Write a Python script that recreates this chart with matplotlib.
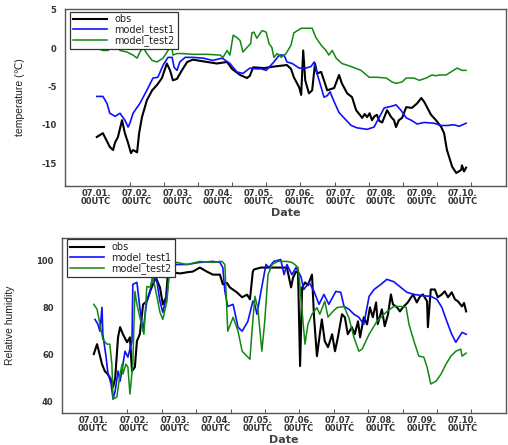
import matplotlib
matplotlib.use("Agg")
import matplotlib.pyplot as plt
import numpy as np

# Etykiety osi czasu (dni od 07.01. 00UTC)
tick_labels = ["07.01.\n00UTC", "07.02.\n00UTC", "07.03.\n00UTC", "07.04.\n00UTC", "07.05.\n00UTC",
               "07.06.\n00UTC", "07.07.\n00UTC", "07.08.\n00UTC", "07.09.\n00UTC", "07.10.\n00UTC"]
series_names = ["obs", "model_test1", "model_test2"]

# --- temperatura ---
t_obs_x = [0.02, 0.17, 0.34, 0.42, 0.47, 0.54, 0.64, 0.71, 0.79, 0.86, 0.91, 1.01, 1.06, 1.13, 1.25,
           1.38, 1.50, 1.62, 1.74, 1.82, 1.89, 1.99, 2.11, 2.24, 2.38, 2.73, 2.97, 3.22, 3.34, 3.54,
           3.71, 3.78, 3.86, 4.13, 4.37, 4.69, 4.79, 4.86, 4.99, 5.04, 5.09, 5.14, 5.23, 5.31, 5.38,
           5.43, 5.53, 5.60, 5.68, 5.85, 5.97, 6.04, 6.17, 6.29, 6.39, 6.54, 6.60, 6.66, 6.72, 6.78,
           6.84, 6.90, 6.96, 7.03, 7.15, 7.25, 7.32, 7.37, 7.44, 7.52, 7.62, 7.76, 7.89, 7.99, 8.06,
           8.13, 8.23, 8.35, 8.48, 8.55, 8.62, 8.75, 8.85, 8.97, 8.99, 9.04, 9.09]
t_obs_y = [-11.6, -11.1, -12.9, -13.3, -12.3, -11.6, -9.4, -11.1, -12.4, -13.7, -13.3, -13.6, -11.1, -9.0, -6.8,
           -5.5, -4.8, -3.9, -2.0, -2.9, -4.2, -4.0, -2.9, -1.8, -1.5, -1.8, -2.0, -1.8, -2.7, -3.5,
           -3.9, -3.6, -2.5, -2.6, -2.4, -2.2, -2.7, -3.8, -5.1, -6.1, -0.3, -4.2, -5.9, -5.5, -2.0,
           -3.3, -3.1, -4.2, -5.5, -5.2, -3.5, -4.6, -5.9, -6.4, -8.1, -9.1, -8.6, -9.0, -8.5, -9.4,
           -8.9, -8.7, -9.5, -9.7, -8.1, -9.0, -9.4, -10.3, -9.4, -9.1, -7.7, -7.8, -7.2, -6.5, -7.0,
           -7.7, -8.7, -9.4, -10.3, -11.1, -13.3, -15.5, -16.3, -15.9, -15.3, -16.1, -15.6]

t_m1_x = [0.02, 0.17, 0.27, 0.34, 0.47, 0.59, 0.71, 0.79, 0.84, 0.91, 1.08, 1.25, 1.40, 1.52, 1.65,
          1.77, 1.87, 1.92, 1.99, 2.06, 2.19, 2.38, 2.63, 2.87, 3.10, 3.29, 3.46, 3.61, 3.78, 3.93,
          4.06, 4.18, 4.37, 4.50, 4.62, 4.69, 4.82, 4.99, 5.16, 5.28, 5.36, 5.43, 5.53, 5.60, 5.68,
          5.75, 5.85, 5.97, 6.09, 6.27, 6.41, 6.66, 6.83, 6.95, 7.08, 7.25, 7.37, 7.49, 7.62, 7.74,
          7.89, 8.06, 8.30, 8.48, 8.62, 8.79, 8.92, 9.09]
t_m1_y = [-6.3, -6.3, -7.2, -8.5, -8.9, -8.5, -9.4, -10.3, -9.7, -8.5, -7.2, -5.5, -3.9, -3.8, -2.2,
          -1.2, -1.2, -2.5, -2.9, -1.8, -1.2, -1.2, -1.3, -1.6, -1.3, -2.0, -3.1, -3.3, -2.6, -2.7,
          -2.7, -2.9, -1.8, -0.9, -0.9, -1.8, -2.0, -2.6, -2.6, -2.4, -1.8, -3.3, -5.1, -6.4, -6.2,
          -5.7, -7.0, -8.4, -9.1, -10.1, -10.4, -10.6, -10.3, -9.1, -7.8, -7.6, -7.4, -8.1, -9.1, -9.4,
          -9.9, -9.7, -9.8, -10.1, -10.1, -10.0, -10.2, -9.8]

t_m2_x = [0.02, 0.17, 0.29, 0.42, 0.52, 0.59, 0.76, 0.91, 1.01, 1.08, 1.16, 1.25, 1.38, 1.50, 1.65,
          1.77, 1.82, 1.87, 1.89, 1.99, 2.11, 2.38, 2.73, 3.05, 3.12, 3.22, 3.29, 3.37, 3.46, 3.54,
          3.61, 3.71, 3.80, 3.83, 3.88, 3.95, 4.08, 4.18, 4.25, 4.32, 4.37, 4.45, 4.55, 4.67, 4.79,
          4.86, 5.04, 5.18, 5.31, 5.40, 5.53, 5.65, 5.72, 5.80, 5.90, 6.04, 6.27, 6.51, 6.71, 6.90,
          7.13, 7.27, 7.37, 7.52, 7.62, 7.81, 7.94, 8.11, 8.25, 8.35, 8.43, 8.60, 8.72, 8.87, 8.99,
          9.09]
t_m2_y = [0.0, -0.3, -0.3, 0.2, 0.4, -0.3, -0.5, -0.9, -1.3, -0.5, 0.1, -0.7, -1.6, -1.8, -1.3,
          -0.3, 0.1, -0.1, -0.9, -0.7, -0.7, -0.8, -0.8, -0.9, -1.2, -0.3, -0.9, 1.7, 1.4, 1.0,
          -0.5, 0.1, 0.6, 2.0, 2.1, 1.3, 2.3, 2.1, 0.6, 0.1, -1.2, -0.7, -1.2, -0.7, 0.4,
          2.0, 2.6, 2.6, 2.6, 1.4, 0.4, -0.3, -0.9, -0.3, -1.3, -2.0, -2.4, -2.9, -3.8, -3.8,
          -3.9, -4.4, -4.6, -4.4, -3.9, -3.9, -4.2, -3.9, -3.5, -3.6, -3.5, -3.5, -3.1, -2.6, -2.9,
          -2.9]

# --- wilgotność względna ---
h_obs_x = [0.02, 0.10, 0.15, 0.22, 0.29, 0.36, 0.46, 0.49, 0.54, 0.61, 0.66, 0.73, 0.83, 0.90, 0.95,
           1.02, 1.07, 1.14, 1.22, 1.31, 1.39, 1.46, 1.53, 1.63, 1.70, 1.78, 1.82, 1.92, 2.12, 2.29,
           2.43, 2.60, 2.77, 2.92, 3.09, 3.16, 3.26, 3.33, 3.50, 3.63, 3.75, 3.82, 3.89, 3.92, 4.09,
           4.40, 4.72, 4.77, 4.82, 4.87, 4.94, 4.99, 5.04, 5.09, 5.16, 5.23, 5.33, 5.38, 5.45, 5.52,
           5.57, 5.64, 5.72, 5.82, 5.89, 5.96, 6.06, 6.13, 6.20, 6.30, 6.37, 6.45, 6.50, 6.59, 6.67,
           6.74, 6.81, 6.89, 6.93, 7.03, 7.10, 7.18, 7.25, 7.30, 7.40, 7.47, 7.54, 7.66, 7.79, 7.88,
           7.96, 8.03, 8.13, 8.15, 8.22, 8.32, 8.39, 8.49, 8.56, 8.64, 8.73, 8.81, 8.88, 8.98, 9.03,
           9.08]
h_obs_y = [60.3, 64.5, 61, 56, 53, 51.8, 48.8, 46.3, 50, 67.4, 71.7, 68.7, 65.3, 67.4, 53,
           54.8, 65.8, 68.7, 81.4, 82.7, 86.9, 89.9, 92.8, 88.6, 81.4, 84.4, 94, 95, 94.5, 95,
           95.3, 97, 95.3, 94, 94, 89.9, 90.5, 88.6, 86.5, 84.4, 85.5, 83.5, 95.3, 96.2, 97,
           97, 97, 92.8, 88.6, 92.8, 95.3, 95.0, 55.2, 88.6, 90.7, 89.5, 94, 75.9, 59.4, 68.7,
           75, 65.8, 63.2, 68.7, 61.5, 67.4, 77.2, 75.9, 68.7, 71.7, 68.7, 74.2, 67.4, 75.9, 72.9,
           80.1, 75.9, 82.2, 73, 79.3, 72.1, 77.2, 85.6, 81.4, 80.1, 78.4, 80.1, 82.2, 85.6, 82.2,
           84.8, 85.6, 82.7, 71.7, 87.7, 87.7, 84.4, 85.6, 86.9, 84.4, 86.5, 83.5, 82.7, 80.5, 82,
           78.4]

h_m1_x = [0.05, 0.12, 0.17, 0.22, 0.24, 0.32, 0.36, 0.44, 0.49, 0.54, 0.61, 0.66, 0.73, 0.78, 0.85,
          0.95, 0.97, 1.07, 1.14, 1.22, 1.31, 1.39, 1.46, 1.56, 1.63, 1.70, 1.80, 1.87, 2.04, 2.29,
          2.60, 2.92, 3.09, 3.16, 3.21, 3.28, 3.41, 3.53, 3.63, 3.77, 3.89, 3.92, 3.99, 4.09, 4.21,
          4.28, 4.40, 4.57, 4.65, 4.72, 4.84, 4.94, 5.06, 5.13, 5.26, 5.38, 5.50, 5.62, 5.74, 5.91,
          6.03, 6.11, 6.23, 6.35, 6.47, 6.59, 6.72, 6.84, 7.01, 7.15, 7.32, 7.49, 7.64, 7.81, 8.05,
          8.22, 8.37, 8.49, 8.61, 8.73, 8.83, 8.91, 8.98, 9.08]
h_m1_y = [75, 72.9, 70, 80.1, 68.7, 59, 52.6, 47.6, 41.2, 44.6, 53.1, 48.8, 56, 61.5, 59,
          65.8, 89.9, 90.7, 80.1, 70, 82.7, 86.9, 94, 90.7, 82.7, 78, 85.6, 97, 98.3, 98.3,
          99.2, 99.6, 99.2, 97, 86.9, 80.5, 81.4, 71.7, 70, 74.2, 82.7, 82.7, 77.2, 87, 98.3,
          97, 99.6, 100.4, 94, 98.3, 94, 97, 93.2, 87.7, 90.7, 86.9, 81.4, 85.6, 81.4, 86.9,
          86.5, 80.5, 79.3, 77.2, 75.9, 72.9, 84.8, 87.7, 89.9, 92, 91, 88.6, 86.5, 85.6, 85.0,
          84.8, 83.5, 80.1, 74.2, 68.7, 65.3, 67.5, 69.5, 68.7]

h_m2_x = [0.02, 0.10, 0.17, 0.24, 0.34, 0.41, 0.46, 0.49, 0.58, 0.66, 0.71, 0.73, 0.80, 0.85, 0.90,
          0.97, 1.02, 1.07, 1.14, 1.24, 1.31, 1.39, 1.46, 1.56, 1.63, 1.70, 1.80, 1.87, 2.04, 2.29,
          2.60, 2.92, 3.09, 3.14, 3.21, 3.28, 3.41, 3.53, 3.63, 3.77, 3.82, 3.87, 3.94, 4.01, 4.11,
          4.18, 4.26, 4.36, 4.50, 4.72, 4.84, 4.91, 4.99, 5.04, 5.11, 5.16, 5.23, 5.33, 5.45, 5.52,
          5.64, 5.72, 5.84, 5.94, 6.11, 6.23, 6.35, 6.47, 6.55, 6.72, 6.91, 7.13, 7.32, 7.49, 7.62,
          7.69, 7.81, 7.93, 8.05, 8.13, 8.22, 8.35, 8.47, 8.59, 8.71, 8.83, 8.95, 8.98, 9.08]
h_m2_y = [81.4, 79.3, 72.9, 66.6, 64.5, 64.5, 56, 41.2, 42, 51.8, 56, 51.8, 56, 54.8, 43.3,
          56, 86.9, 81.4, 75.9, 68.7, 89, 88.6, 92.8, 84.4, 78, 75, 82.7, 97.5, 99.2, 98.3,
          99.6, 99.2, 99.6, 99.6, 98.3, 70, 75.9, 70, 61.5, 59, 58.1, 70, 84.8, 80, 61.5,
          74.2, 94, 98.3, 99.6, 99.6, 99.2, 98.3, 97, 88.6, 74.2, 64.5, 72.9, 77.2, 80, 77.2,
          82.7, 76, 78.4, 80, 80.5, 75.5, 67.4, 61.5, 62.4, 68.7, 74.2, 78, 80.5, 80.5, 80.1,
          72.9, 65.8, 59.4, 59, 54.8, 47.6, 48.8, 51.8, 56, 59.4, 61.5, 62.4, 59.4, 60.7]

temp_ticks = [5, 0, -5, -10, -15]
rh_ticks = [40, 60, 80, 100]

colors = ["black", "#1010ff", "#118811"]
widths = [1.5, 1.2, 1.1]
tick_font = dict(fontsize=6, fontweight="bold", color="#333333")


# Funkcja rysująca jeden panel
def draw_panel(ax, xs, ys, xlim, ylim, yticks, ylabel, legend_anchor):
    for x, y, c, w, name in zip(xs, ys, colors, widths, series_names):
        ax.plot(x, y, color=c, lw=w, label=name)
    ax.set_xlim(*xlim)
    ax.set_ylim(*ylim)
    ax.set_xticks(range(len(tick_labels)))
    ax.set_xticklabels(tick_labels, **tick_font, linespacing=0.85)
    ax.set_xticks(np.arange(12) * 0.837, minor=True)
    ax.tick_params(axis="x", which="major", length=0, pad=2)
    ax.tick_params(axis="x", which="minor", length=3, direction="in", color="#333333")
    ax.set_yticks(yticks)
    ax.set_yticklabels([str(v) for v in yticks], **tick_font)
    ax.tick_params(axis="y", length=0, pad=6)
    ax.set_xlabel("Date", fontsize=8, fontweight="bold", color="#444444")
    ax.xaxis.set_label_coords(0.5, -0.125)
    ax.xaxis.label.set_verticalalignment("top")
    ax.set_ylabel(ylabel, fontsize=7.5, family=["Liberation Sans Narrow", "Liberation Sans", "DejaVu Sans"],
                  color="#222222")
    for s in ax.spines.values():
        s.set_color("#555555")
        s.set_linewidth(1.0)
    leg = ax.legend(loc="upper left", bbox_to_anchor=legend_anchor, borderaxespad=0, fontsize=7,
                    labelspacing=0.0, handlelength=3.5, handletextpad=0.8, fancybox=False,
                    borderpad=0.3, framealpha=1)
    leg.get_frame().set_edgecolor("#333333")
    leg.get_frame().set_linewidth(0.9)
    for t in leg.get_texts():
        t.set_color("#222222")


fig = plt.figure(figsize=(5.08, 4.45), dpi=100)
ax1 = fig.add_axes([0.128, 0.582, 0.868, 0.398])
ax2 = fig.add_axes([0.122, 0.072, 0.874, 0.394])

draw_panel(ax1, [t_obs_x, t_m1_x, t_m2_x], [t_obs_y, t_m1_y, t_m2_y], (-0.76, 10.07), (-18.0, 5.13),
           temp_ticks, "temperature (\u2103)", (0.011, 0.985))
draw_panel(ax2, [h_obs_x, h_m1_x, h_m2_x], [h_obs_y, h_m1_y, h_m2_y], (-0.754, 10.05), (35.3, 109.7),
           rh_ticks, "Relative humidity", (0.011, 0.99))

ax1.yaxis.set_label_coords(-0.09, 0.5)
ax2.yaxis.set_label_coords(-0.105, 0.5)

fig.savefig("out.png", dpi=100)
